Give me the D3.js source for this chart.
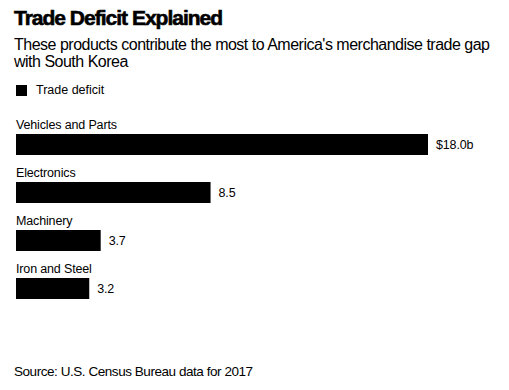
<!DOCTYPE html>
<html>
<head>
<meta charset="utf-8">
<script src="https://cdn.jsdelivr.net/npm/d3@7"></script>
<style>
  body { margin: 0; background: #fff; }
  text { font-family: "Liberation Sans", Arial, sans-serif; fill: #000; }
</style>
</head>
<body>
<div id="chart"></div>
<script>
// data
var categories = ["Vehicles and Parts", "Electronics", "Machinery", "Iron and Steel"];
var deficits = [18.0, 8.5, 3.7, 3.2];
var valueLabels = ["$18.0b", "8.5", "3.7", "3.2"];

var width = 509, height = 390;
var margin = { left: 16, top: 134 };

var svg = d3.select("#chart").append("svg")
    .attr("width", width)
    .attr("height", height);

// title block
svg.append("text")
    .attr("x", 14)
    .attr("y", 25)
    .style("font-size", "21px")
    .style("font-weight", "bold")
    .style("letter-spacing", "-1px")
    .style("stroke", "#000")
    .style("stroke-width", "0.6px")
    .text("Trade Deficit Explained");

svg.append("text")
    .attr("x", 14)
    .attr("y", 50)
    .style("font-size", "16px")
    .style("letter-spacing", "-0.5px")
    .text("These products contribute the most to America's merchandise trade gap");

svg.append("text")
    .attr("x", 14)
    .attr("y", 67)
    .style("font-size", "16px")
    .style("letter-spacing", "-0.5px")
    .text("with South Korea");

// legend
svg.append("rect")
    .attr("x", 16)
    .attr("y", 85)
    .attr("width", 11)
    .attr("height", 11)
    .style("fill", "#000");

svg.append("text")
    .attr("x", 36)
    .attr("y", 94)
    .style("font-size", "12.5px")
    .text("Trade deficit");

// scales
var x = d3.scaleLinear().domain([0, 18]).range([0, 412]);
var y = d3.scaleBand().domain(categories).range([0, 48 * categories.length]).paddingInner(0).paddingOuter(0);

var g = svg.append("g")
    .attr("transform", "translate(" + margin.left + "," + margin.top + ")");

var rows = g.selectAll(".row")
    .data(categories)
    .enter().append("g")
    .attr("class", "row")
    .attr("transform", function (d) { return "translate(0," + y(d) + ")"; });

// bars
rows.append("rect")
    .attr("x", 0)
    .attr("y", 0)
    .attr("width", function (d, i) { return x(deficits[i]); })
    .attr("height", 21)
    .style("fill", "#000");

// category labels
rows.append("text")
    .attr("x", 0)
    .attr("y", -5)
    .style("font-size", "12.5px")
    .style("letter-spacing", "-0.15px")
    .text(function (d) { return d; });

// value labels
rows.append("text")
    .attr("x", function (d, i) { return x(deficits[i]) + 8; })
    .attr("y", 10.5)
    .attr("dy", "0.35em")
    .style("font-size", "12.5px")
    .style("letter-spacing", "-0.15px")
    .text(function (d, i) { return valueLabels[i]; });

// source
svg.append("text")
    .attr("x", 14)
    .attr("y", 376)
    .style("font-size", "13.5px")
    .style("letter-spacing", "-0.45px")
    .text("Source: U.S. Census Bureau data for 2017");
</script>
</body>
</html>
